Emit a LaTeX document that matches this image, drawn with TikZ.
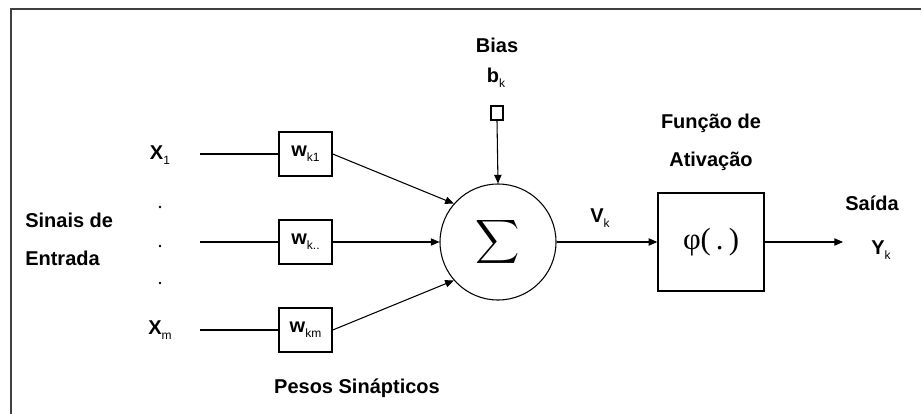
\documentclass[tikz,border=0pt]{standalone}
\usepackage{fontspec}
\setmainfont{Liberation Sans}
\newfontfamily\serifface{Liberation Serif}
\usetikzlibrary{arrows.meta}

% bold label text and small regular subscripts
\newcommand\lbl[1]{\fontsize{15}{18}\selectfont\bfseries #1}
\newcommand\lowsub[1]{\raisebox{-0.45ex}{\fontsize{9}{9}\selectfont\mdseries #1}}

\tikzset{
  wire/.style={line width=0.8pt, draw=black},
  arr/.style={wire, -{Triangle[length=6.5pt,width=5.5pt]}},
  weight/.style={draw, line width=1.1pt, minimum width=39.75pt, minimum height=33pt, inner sep=0pt},
  txt/.style={inner sep=0pt, font=\lbl},
}

\begin{document}
\begin{tikzpicture}[x=0.75pt, y=-0.75pt]
  \useasboundingbox (0,0) rectangle (921,414);
  \fill[white] (0,0) rectangle (921,414);

  % frame
  \draw[line width=1.5pt, black!75] (11,414) -- (11,8.5) -- (921,8.5);

  % input signals
  \node[txt] (x1) at (160,155) {X\lowsub{1}};
  \node[txt] (xm) at (160,330) {X\lowsub{m}};
  \foreach \yy/\nm in {207/d1, 246/d2, 283/d3}
    \fill (160,\yy) circle (1.4);
  \coordinate (s1) at (200,154);
  \coordinate (s2) at (200,242);
  \coordinate (s3) at (200,330);

  \node[txt, anchor=west] (sin1) at (25,220) {Sinais de};
  \node[txt, anchor=west] (sin2) at (25,258) {Entrada};

  % synaptic weights
  \node[weight] (w1) at (305.5,154) {\lbl{w}\lowsub{k1}};
  \node[weight] (w2) at (305.5,242) {\lbl{w}\lowsub{k..}};
  \node[weight] (w3) at (305.5,330) {\lbl{w}\lowsub{km}};
  \node[txt] (pesos) at (357,388) {Pesos Sinápticos};

  % summing junction
  \node[draw, line width=0.8pt, circle, minimum size=87pt, inner sep=0pt] (sum) at (498,242)
    {\scalebox{2.3}{$\displaystyle\sum$}};

  % bias
  \node[txt] (bias) at (497,45) {Bias};
  \node[txt] (bk) at (496,78) {b\lowsub{k}};
  \node[draw, line width=0.8pt, minimum width=9pt, minimum height=10.5pt, inner sep=0pt] (bsq) at (497,113) {};

  % activation function
  \node[draw, line width=1.1pt, minimum width=79.5pt, minimum height=73.5pt, inner sep=0pt] (phi) at (711,242)
    {\serifface\fontsize{23}{23}\selectfont φ(\,.\,)};
  \node[txt] (fun1) at (711,123) {Função de};
  \node[txt] (fun2) at (711,161) {Ativação};

  \node[txt] (vk) at (600,218) {V\lowsub{k}};
  \node[txt] (said) at (872,203) {Saída};
  \node[txt] (yk) at (881,250) {Y\lowsub{k}};
  \coordinate (out) at (843,242);

  % connections
  \draw[wire] (s1) -- (w1);
  \draw[wire] (s2) -- (w2);
  \draw[wire] (s3) -- (w3);
  \draw[arr] (w1.east) -- (sum.139);
  \draw[arr] (w2.east) -- (sum.west);
  \draw[arr] (w3.east) -- (sum.221);
  \draw[arr] (bsq.south) -- (sum.north);
  \draw[arr] (sum.east) -- (phi.west);
  \draw[arr] (phi.east) -- (out);
\end{tikzpicture}
\end{document}
